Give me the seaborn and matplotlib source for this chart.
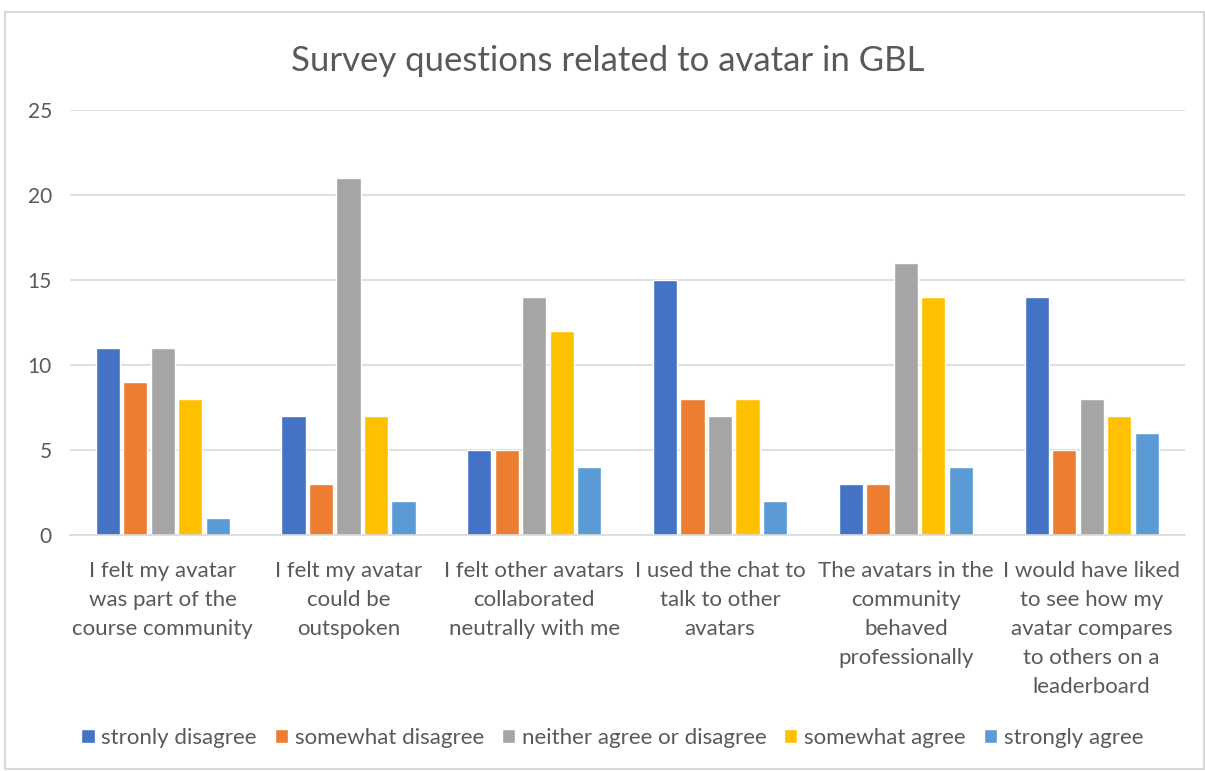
"""
Grouped bar chart: survey answers about avatars in GBL.
"""
import matplotlib
matplotlib.use("Agg")
import matplotlib.pyplot as plt
from matplotlib.patches import Rectangle
import pandas as pd
import seaborn as sns

# ---------------------------------------------------------------------------
# Data
# ---------------------------------------------------------------------------
questions = [
    "I felt my avatar\nwas part of the\ncourse community",
    "I felt my avatar\ncould be\noutspoken",
    "I felt other avatars\ncollaborated\nneutrally with me",
    "I used the chat to\ntalk to other\navatars",
    "The avatars in the\ncommunity\nbehaved\nprofessionally",
    "I would have liked\nto see how my\navatar compares\nto others on a\nleaderboard",
]
answers = [
    "stronly disagree",
    "somewhat disagree",
    "neither agree or disagree",
    "somewhat agree",
    "strongly agree",
]
strongly_disagree = [11, 7, 5, 15, 3, 14]
somewhat_disagree = [9, 3, 5, 8, 3, 5]
neither = [11, 21, 14, 7, 16, 8]
somewhat_agree = [8, 7, 12, 8, 14, 7]
strongly_agree = [1, 2, 4, 2, 4, 6]

colors = ["#4472C4", "#ED7D31", "#A5A5A5", "#FFC000", "#5B9BD5"]

series = [strongly_disagree, somewhat_disagree, neither, somewhat_agree, strongly_agree]
df = pd.DataFrame(
    [(q, a, v) for a, vals in zip(answers, series) for q, v in zip(questions, vals)],
    columns=["question", "answer", "count"],
)

# ---------------------------------------------------------------------------
# Plot
# ---------------------------------------------------------------------------
sns.set_style("white")
plt.rcParams["font.family"] = ["Lato", "DejaVu Sans"]
text_gray = "#595959"
grid_gray = "#D9D9D9"

fig = plt.figure(figsize=(12.05, 7.71), dpi=100)
ax = fig.add_axes([0.058, 0.306, 0.925, 0.551])

sns.barplot(
    data=df, x="question", y="count", hue="answer",
    hue_order=answers, order=questions, palette=colors, saturation=1,
    width=0.74, gap=0.12, ax=ax, legend=True,
)

ax.set_ylim(0, 25)
ax.set_yticks(range(0, 26, 5))
ax.yaxis.grid(True, color=grid_gray, linewidth=1.2)
ax.set_axisbelow(True)
for side in ["left", "right", "top"]:
    ax.spines[side].set_visible(False)
ax.spines["bottom"].set_color(grid_gray)
ax.spines["bottom"].set_linewidth(1.2)
ax.tick_params(axis="both", length=0, colors=text_gray)
ax.tick_params(axis="x", pad=19, labelsize=16)
ax.tick_params(axis="y", pad=13, labelsize=15)
for lbl in ax.get_xticklabels():
    lbl.set_linespacing(1.55)
ax.set_xlabel("")
ax.set_ylabel("")

fig.suptitle("Survey questions related to avatar in GBL", x=0.504, y=0.942,
             fontsize=25, color=text_gray)

handles, labels = ax.get_legend_handles_labels()
ax.get_legend().remove()
fig.legend(handles, labels, loc="center", bbox_to_anchor=(0.508, 0.043),
           ncol=5, frameon=False, fontsize=16, labelcolor=text_gray,
           handlelength=0.6, handleheight=0.6, handletextpad=0.3,
           columnspacing=0.8)

fig.add_artist(Rectangle((0.004, 0.003), 0.995, 0.981, transform=fig.transFigure,
                         fill=False, edgecolor=grid_gray, linewidth=1.5))

fig.savefig("out.png", dpi=100)
plt.close(fig)
